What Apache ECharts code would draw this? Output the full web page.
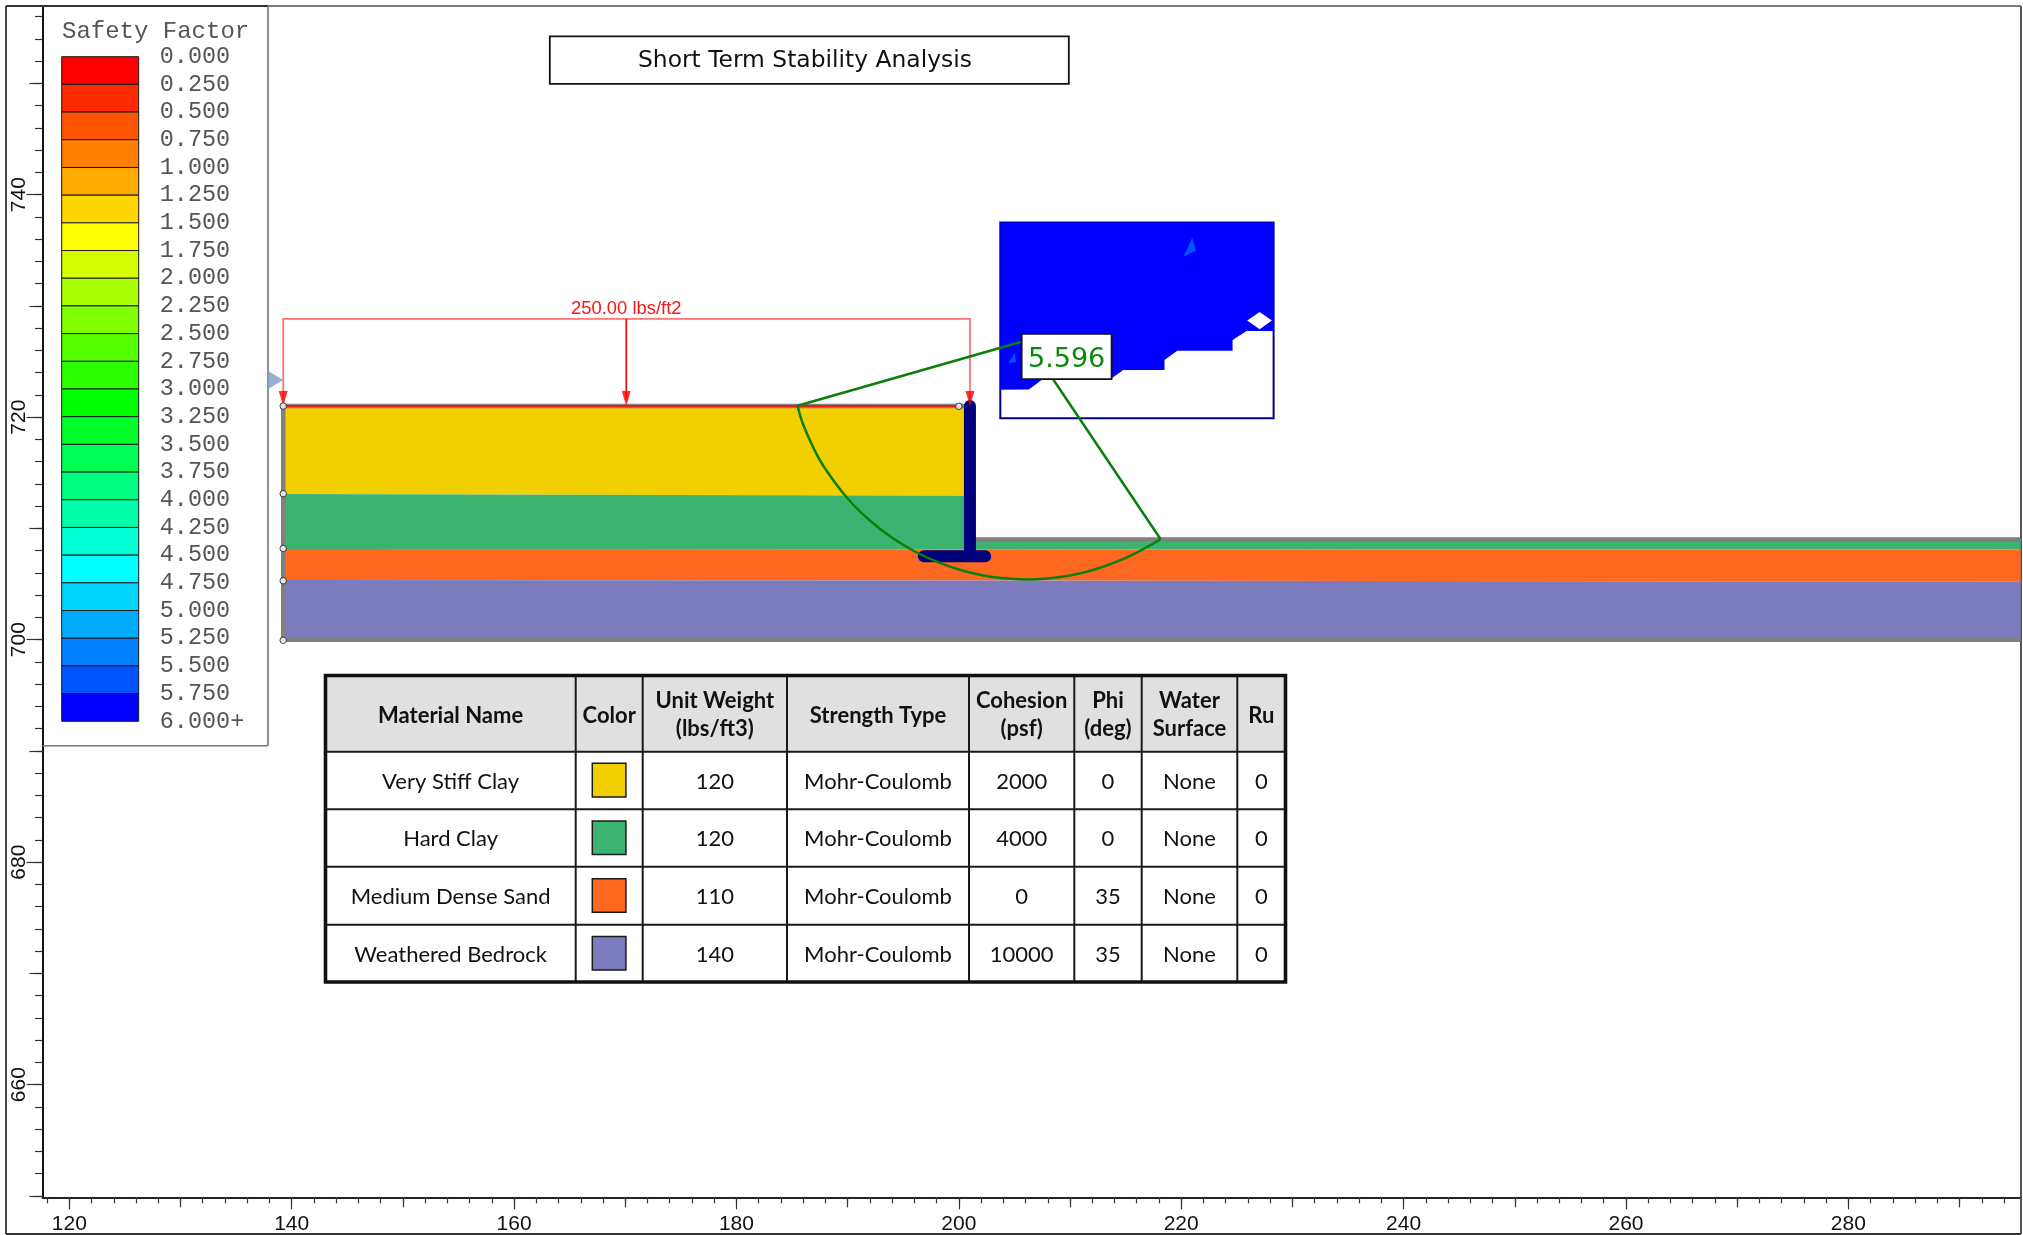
<!DOCTYPE html>
<html><head><meta charset="utf-8">
<style>html,body{margin:0;padding:0;background:#fff}#c{width:2023px;height:1235px}</style>
<script src="https://cdn.jsdelivr.net/npm/echarts@6/dist/echarts.min.js"></script>
</head><body><div id="c"></div>
<script>
// ---------- data ----------
const xTickLabels = [120,140,160,180,200,220,240,260,280];
const xTenTicks = [130,150,170,190,210,230,250,270,290];
const yTickLabels = [660,680,700,720,740];
const yTenTicks = [650,670,690,710,730,750];
const scaleLabels = ['0.000','0.250','0.500','0.750','1.000','1.250','1.500','1.750','2.000','2.250','2.500','2.750','3.000','3.250','3.500','3.750','4.000','4.250','4.500','4.750','5.000','5.250','5.500','5.750','6.000+'];
const scaleColors = ['#ff0000','#ff2b00','#ff5500','#ff8000','#ffaa00','#ffd500','#ffff00','#d5ff00','#aaff00','#80ff00','#55ff00','#2bff00','#00ff00','#00ff2b','#00ff55','#00ff80','#00ffaa','#00ffd5','#00ffff','#00d5ff','#00aaff','#0080ff','#0055ff','#0000ff'];

const clayLayer = [[139.24,721],[201,721],[201,712.95],[139.24,713.1]];
const hardClayLayer = [[139.24,713.1],[201,712.95],[201,709],[295.5,709],[295.5,708.1],[201,708.12],[139.24,708.15]];
const sandLayer = [[139.24,708.15],[201,708.12],[295.5,708.1],[295.5,705.2],[201,705.32],[139.24,705.37]];
const bedrockLayer = [[139.24,705.37],[201,705.32],[295.5,705.2],[295.5,700],[139.24,700]];
const boundary = [[295.5,700],[139.24,700],[139.24,721],[201,721],[201,709],[295.5,709]];
const surfaceLoad = [[139.24,721],[200,721]];
const wallStem = [[201,721],[201,707.5]];
const wallFooting = [[196.86,707.5],[202.37,707.5]];
const vertices = [[139.24,721],[139.24,713.12],[139.24,708.2],[139.24,705.3],[139.24,699.95],[200,720.98]];
const waterMark = [[138.56,723.34]];

const slipArc = [[185.5,721.03],[186,719.34],[187,717.09],[188,715.35],[190,712.69],[192,710.71],[194,709.16],[196,707.95],[198,707.01],[200,706.31],[202,705.82],[204,705.52],[206,705.42],[208,705.5],[210,705.77],[212,706.24],[214,706.92],[216,707.83],[218.15,709.03]];
const slipRadii = [[185.5,721.03],[206.12,726.92],[218.15,709.03]];
const loadFrame = [[139.24,721.5],[139.24,728.83],[201,728.83],[201,721.5]];
const loadCentre = [[170.09,728.83],[170.09,721.5]];
const loadArrows = [[139.24,721.68],[170.09,721.68],[201,721.68]];
const loadLabel = '250.00 lbs/ft2';
const loadLabelAt = [170.09,729.72];

const contourFrame = [[203.73,737.49],[228.31,737.49],[228.31,719.9],[203.73,719.9]];
const contourBlue = [[203.73,737.49],[228.31,737.49],[228.31,727.75],[225.88,727.75],[224.62,726.94],[224.62,725.98],[219.64,725.98],[218.5,725.14],[218.5,724.24],[214.79,724.24],[213.65,723.43],[207.44,723.34],[206.3,722.5],[203.73,722.47]];
const contourHole = [[227.05,729.46],[228.16,728.68],[227.05,727.9],[225.94,728.68]];
const contourPatchA = [[220.99,736.14],[221.32,734.97],[220.18,734.43],[220.63,735.33]];
const contourPatchB = [[205.04,725.8],[205.13,724.99],[204.44,724.81]];
const fosBox = [[205.65,727.48],[213.74,723.43]];
const fosValue = '5.596';

const tableHeader = [['Material Name'],['Color'],['Unit Weight','(lbs/ft3)'],['Strength Type'],['Cohesion','(psf)'],['Phi','(deg)'],['Water','Surface'],['Ru']];
const materialNames = ['Very Stiff Clay','Hard Clay','Medium Dense Sand','Weathered Bedrock'];
const materialColors = ['#f1cf00','#3cb371','#ff6821','#7c7bbd'];
const unitWeights = ['120','120','110','140'];
const strengthTypes = ['Mohr-Coulomb','Mohr-Coulomb','Mohr-Coulomb','Mohr-Coulomb'];
const cohesions = ['2000','4000','0','10000'];
const phis = ['0','0','35','35'];
const waterSurfaces = ['None','None','None','None'];
const rus = ['0','0','0','0'];

// ---------- layout ----------
const X_MIN=117.59,X_MAX=295.5,Y_MIN=649.88,Y_MAX=756.96;
const everyTwo=(a,b)=>{const r=[];for(let v=a;v<=b;v+=2)r.push(v);return r;};
const xMinor=everyTwo(118,294), yMinor=everyTwo(650,756);

const xBase={type:'value',min:X_MIN,max:X_MAX,position:'bottom',gridIndex:0,splitLine:{show:false},axisLine:{show:true,onZero:false,lineStyle:{color:'#222',width:1.5}}};
const yBase={type:'value',min:Y_MIN,max:Y_MAX,position:'left',gridIndex:0,splitLine:{show:false},axisLine:{show:true,onZero:false,lineStyle:{color:'#111',width:1.5}}};
const tickStyle={color:'#333',width:1.2};
const axisFont={fontFamily:'"Liberation Sans"',fontSize:21,color:'#111'};

function polygon(name,points,fill,stroke,lw,z){
  return {type:'custom',name,coordinateSystem:'cartesian2d',xAxisIndex:0,yAxisIndex:0,clip:false,z,silent:true,data:points,
    renderItem(p,api){ if(p.dataIndex!==0) return null;
      return {type:'polygon',shape:{points:points.map(q=>api.coord(q))},style:{fill,stroke:stroke||null,lineWidth:lw||0}};}};
}
function polyline(name,points,color,width,z,extra){
  return Object.assign({type:'line',name,xAxisIndex:0,yAxisIndex:0,data:points,showSymbol:false,clip:false,z,silent:true,
    lineStyle:{color,width,cap:'butt',join:'miter'}},extra||{});
}

const series=[
  polygon('Very Stiff Clay',clayLayer,materialColors[0],null,0,2),
  polygon('Hard Clay',hardClayLayer,materialColors[1],null,0,2),
  polygon('Medium Dense Sand',sandLayer,materialColors[2],null,0,2),
  polygon('Weathered Bedrock',bedrockLayer,materialColors[3],null,0,2),
  polyline('Boundary',boundary,'#808080',4.5,3),
  polyline('Surface load',surfaceLoad,'#f01818',2,4),
  polyline('Wall stem',wallStem,'#00007d',12,6,{lineStyle:{color:'#00007d',width:12,cap:'round'}}),
  polyline('Wall footing',wallFooting,'#00007d',12,6,{lineStyle:{color:'#00007d',width:12,cap:'round'}}),
  polygon('Contour frame',contourFrame,'#ffffff','#00008b',2,2),
  polygon('Contour blue',contourBlue,'#0000ff',null,0,3),
  polygon('Contour hole',contourHole,'#ffffff',null,0,4),
  polygon('Contour patch A',contourPatchA,'#0055ff',null,0,4),
  polygon('Contour patch B',contourPatchB,'#0055ff',null,0,4),
  polyline('Slip surface',slipArc,'#0a800a',2.5,7,{smooth:0.4}),
  polyline('Slip radii',slipRadii,'#0a800a',2.5,7),
  polyline('Load frame',loadFrame,'#ff7373',1.8,5),
  polyline('Load centre',loadCentre,'#ff0000',1.6,5),
  {type:'scatter',name:'Load arrows',xAxisIndex:0,yAxisIndex:0,data:loadArrows,symbol:'triangle',symbolRotate:180,symbolSize:[9,15],clip:false,z:8,silent:true,itemStyle:{color:'#ff0000'}},
  {type:'scatter',name:'Water mark',xAxisIndex:0,yAxisIndex:0,data:waterMark,symbol:'triangle',symbolRotate:-90,symbolSize:[18,15],clip:false,z:5,silent:true,itemStyle:{color:'#7b9cc4'}},
  {type:'scatter',name:'Vertices',xAxisIndex:0,yAxisIndex:0,data:vertices,symbol:'circle',symbolSize:6.5,clip:false,z:9,silent:true,itemStyle:{color:'#fff',borderColor:'#111',borderWidth:1}},
  {type:'custom',name:'FOS',xAxisIndex:0,yAxisIndex:0,coordinateSystem:'cartesian2d',clip:false,z:10,silent:true,data:fosBox,
    renderItem(p,api){ if(p.dataIndex!==0) return null;
      const a=api.coord(fosBox[0]),b=api.coord(fosBox[1]);
      return {type:'group',children:[
        {type:'rect',shape:{x:a[0],y:a[1],width:b[0]-a[0],height:b[1]-a[1]},style:{fill:'#fff',stroke:'#111',lineWidth:1.8}},
        {type:'text',style:{text:fosValue,x:(a[0]+b[0])/2,y:(a[1]+b[1])/2+3,align:'center',verticalAlign:'middle',fill:'#0a8a0a',font:'27px "DejaVu Sans"'}}]};}},
  {type:'custom',name:'Load label',xAxisIndex:0,yAxisIndex:0,coordinateSystem:'cartesian2d',clip:false,z:8,silent:true,data:[loadLabelAt],
    renderItem(p,api){ const c=api.coord(loadLabelAt);
      return {type:'text',style:{text:loadLabel,x:c[0],y:c[1],align:'center',verticalAlign:'middle',fill:'#f51515',font:'18.4px "Liberation Sans"'}};}},
  {type:'custom',name:'Safety Factor',xAxisIndex:3,yAxisIndex:3,coordinateSystem:'cartesian2d',z:5,silent:true,
    data:scaleColors.map((c,i)=>[0,parseFloat(scaleLabels[i])]),
    renderItem(p,api){ const v=api.value(1),i=p.dataIndex;
      const a=api.coord([0,v]),b=api.coord([1,parseFloat(scaleLabels[i+1])]);
      return {type:'rect',shape:{x:a[0],y:a[1],width:b[0]-a[0],height:b[1]-a[1]},style:{fill:scaleColors[i],stroke:'#1a1a1a',lineWidth:1}};}}
];

// ---------- page furniture ----------
const FONT_TABLE='Lato';
const colX=[325.5,575.7,642.7,787,969,1074.3,1141.7,1237.3,1285.5];
const rowY=[675.5,751.7,809.3,866.7,924.7,982];
const g=[];
const line=(x1,y1,x2,y2,stroke,lineWidth,z)=>g.push({type:'line',silent:true,z:z||20,shape:{x1,y1,x2,y2},style:{stroke,lineWidth}});
// frame
line(6,6,268,6,'#333',1.8,1); line(268,6,2021,6,'#7d7d7d',1.8,1);
line(6,6,6,1234,'#333',1.8,1); line(6,1234,2021,1234,'#333',1.8,1); line(2021,6,2021,1234,'#444',1.8,1);
// legend box
line(268,6,268,745.7,'#777',1.6,1); line(42.5,745.7,268,745.7,'#777',1.6,1);
// title box
g.push({type:'rect',silent:true,z:20,shape:{x:549.8,y:36.3,width:519,height:47.5},style:{fill:'#fff',stroke:'#111',lineWidth:1.8}});
// table
g.push({type:'rect',silent:true,z:20,shape:{x:colX[0],y:rowY[0],width:colX[8]-colX[0],height:rowY[1]-rowY[0]},style:{fill:'#e0e0e0'}});
for(let i=1;i<8;i++) line(colX[i],rowY[0],colX[i],rowY[5],'#1a1a1a',2,21);
for(let j=1;j<5;j++) line(colX[0],rowY[j],colX[8],rowY[j],'#1a1a1a',2,21);
g.push({type:'rect',silent:true,z:22,shape:{x:colX[0],y:rowY[0],width:colX[8]-colX[0],height:rowY[5]-rowY[0]},style:{fill:'none',stroke:'#111',lineWidth:3.6}});
const txt=(text,x,y,bold)=>g.push({type:'text',silent:true,z:23,x,y,style:{text,align:'center',verticalAlign:'middle',fill:'#111',font:(bold?'bold ':'')+'22px '+FONT_TABLE}});
tableHeader.forEach((ls,c)=>{const cx=(colX[c]+colX[c+1])/2;
  if(ls.length===1) txt(ls[0],cx,715.5,true); else {txt(ls[0],cx,700.5,true);txt(ls[1],cx,729,true);}});
const cols=[materialNames,null,unitWeights,strengthTypes,cohesions,phis,waterSurfaces,rus];
const rowText=[781.8,839,896.8,954.8];
const swatchY=[763.3,821,878.7,936.5];
materialNames.forEach((_,r)=>{
  cols.forEach((col,c)=>{ if(col) txt(col[r],(colX[c]+colX[c+1])/2,rowText[r],false); });
  g.push({type:'rect',silent:true,z:23,shape:{x:592.3,y:swatchY[r],width:33.6,height:33.6},style:{fill:materialColors[r],stroke:'#1a1a1a',lineWidth:1.5}});
});

const chart=echarts.init(document.getElementById('c'),null,{renderer:'canvas'});
chart.setOption({
  animation:false,backgroundColor:'#fff',tooltip:{show:false},legend:{show:false},
  title:[
    {text:'Short Term Stability Analysis',left:638,top:49.5,padding:0,z:25,textStyle:{fontFamily:'"DejaVu Sans"',fontWeight:'normal',fontSize:23.4,color:'#111'}},
    {text:'Safety Factor',left:62,top:20,padding:0,z:25,textStyle:{fontFamily:'"Liberation Mono"',fontWeight:'normal',fontSize:24,color:'#555'}}
  ],
  grid:[
    {left:42.5,top:6,right:2.3,bottom:37.7,containLabel:false},
    {left:61.7,top:56.7,width:77,height:664.6,containLabel:false}
  ],
  xAxis:[
    Object.assign({},xBase,{axisTick:{customValues:xTickLabels,length:12,lineStyle:tickStyle},axisLabel:{customValues:xTickLabels,margin:16,...axisFont}}),
    Object.assign({},xBase,{axisTick:{customValues:xTenTicks,length:10,lineStyle:tickStyle},axisLabel:{show:false}}),
    Object.assign({},xBase,{axisTick:{customValues:xMinor,length:6,lineStyle:tickStyle},axisLabel:{show:false}}),
    {type:'value',gridIndex:1,min:0,max:1,show:false}
  ],
  yAxis:[
    Object.assign({},yBase,{axisTick:{customValues:yTickLabels,length:16,lineStyle:tickStyle},axisLabel:{customValues:yTickLabels,rotate:90,margin:13,...axisFont}}),
    Object.assign({},yBase,{axisTick:{customValues:yTenTicks,length:13,lineStyle:tickStyle},axisLabel:{show:false}}),
    Object.assign({},yBase,{axisTick:{customValues:yMinor,length:7.5,lineStyle:tickStyle},axisLabel:{show:false}}),
    {type:'value',gridIndex:1,min:0,max:6,interval:0.25,inverse:true,position:'right',axisLine:{show:false},axisTick:{show:false},splitLine:{show:false},
      axisLabel:{show:true,margin:21,showMinLabel:true,showMaxLabel:true,hideOverlap:false,formatter:v=>scaleLabels[Math.round(v/0.25)],fontFamily:'"Liberation Mono"',fontSize:23.5,color:'#555'}}
  ],
  series,
  graphic:{elements:g}
});
</script></body></html>
